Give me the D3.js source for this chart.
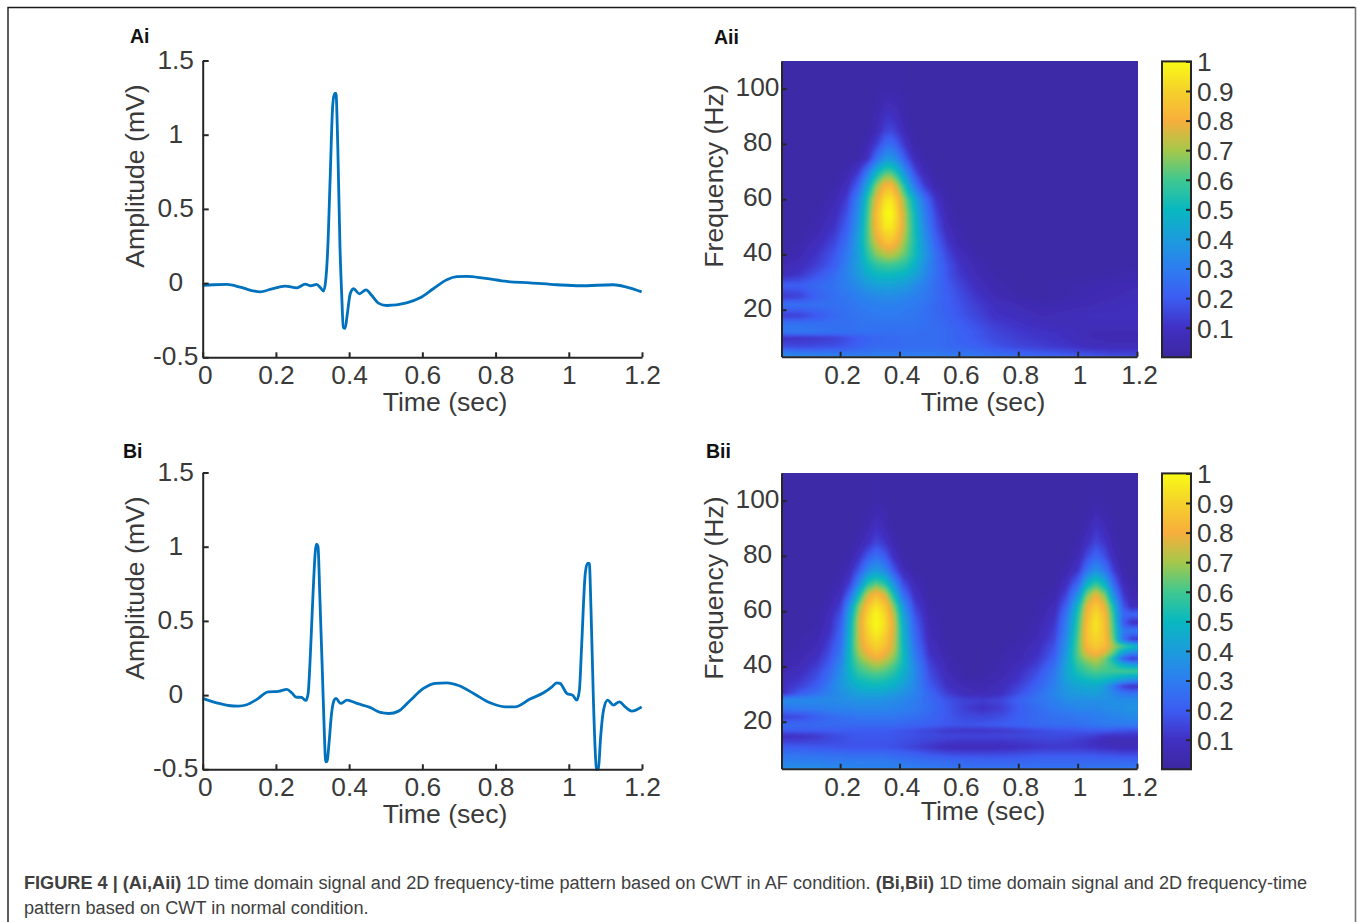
<!DOCTYPE html>
<html>
<head>
<meta charset="utf-8">
<script src="https://cdn.jsdelivr.net/npm/d3@7"></script>
<style>
html, body { margin:0; padding:0; background:#fff; }
svg { display:block; font-family:"Liberation Sans", Arial, sans-serif; }
.lab { font-size:26.6px; fill:#3a3a3a; }
.axis path, .axis line { stroke:#262626; stroke-width:2; fill:none; }
.axis text { font-size:26.3px; fill:#3a3a3a; font-family:"Liberation Sans", Arial, sans-serif; }
</style>
</head>
<body>
<svg id="fig" width="1357" height="922"></svg>
<script>
// time domain signals (sec, mV)
var aiTime = [0,.029,.066,.102,.134,.157,.184,.225,.257,.28,.295,.311,.322,.33,.336,.341,.348,.355,.36,.364,.369,.375,.38,.384,.389,.395,.403,.412,.428,.446,.462,.48,.503,.557,.594,.63,.667,.694,.721,.767,.831,.894,.967,1.031,1.122,1.158,1.199];
var aiAmp = [-.016,-.011,-.009,-.027,-.05,-.059,-.043,-.02,-.032,-.007,-.018,-.009,-.032,-.054,.018,.199,.695,1.192,1.278,1.278,.921,.244,-.095,-.298,-.305,-.208,-.072,-.038,-.072,-.045,-.084,-.135,-.151,-.133,-.099,-.038,.023,.043,.045,.034,.011,.002,-.011,-.018,-.011,-.027,-.059];
var biTime = [0,.038,.07,.097,.12,.148,.179,.207,.23,.243,.255,.27,.282,.288,.293,.301,.308,.311,.315,.32,.327,.332,.336,.34,.345,.352,.359,.364,.377,.394,.421,.457,.485,.509,.535,.566,.603,.635,.667,.699,.74,.785,.826,.853,.894,.931,.954,.967,.976,.995,1.011,1.022,1.029,1.035,1.045,1.051,1.056,1.061,1.067,1.073,1.076,1.081,1.087,1.095,1.106,1.122,1.138,1.154,1.172,1.199];
var biAmp = [-.022,-.052,-.07,-.074,-.065,-.029,.022,.025,.038,.016,-.013,-.016,-.036,.011,.213,.663,.978,1.018,1,.663,.146,-.236,-.449,-.445,-.326,-.124,-.034,-.022,-.056,-.034,-.056,-.083,-.117,-.124,-.108,-.038,.045,.079,.083,.065,.011,-.052,-.079,-.079,-.027,.016,.056,.083,.079,.011,-.002,-.034,.034,.326,.82,.888,.888,.551,-.011,-.416,-.5,-.494,-.281,-.101,-.034,-.067,-.045,-.079,-.108,-.079];

// CWT maps, percent of the colour range
var aiiTimes = [0,.06,.12,.18,.22,.26,.29,.32,.35,.37,.39,.42,.45,.48,.52,.56,.6,.66,.72,.8,.88,.96,1.04,1.12,1.2];
var aiiFreqs = [110,100,95,90,85,80,75,70,65,60,55,50,45,40,36,33,29,25,22,18,15,12,10,7,5,3];
var aiiValues = [
 [2,2,2,2,2,2,2,2, 2,2,2, 2,2,2,2,2,2,2, 2,2,2,2,2,2,2],
 [2,2,2,2,2,2,2,2, 3,3,3, 2,2,2,2,2,2,2, 2,2,2,2,2,2,2],
 [2,2,2,2,2,2,2,3, 6,6,5, 3,2,2,2,2,2,2, 2,2,2,2,2,2,2],
 [2,2,2,2,2,2,2,4, 10,10,8, 3,2,2,2,2,2,2, 2,2,2,2,2,2,2],
 [2,2,2,2,2,2,2,6, 14,15,12, 5,2,2,2,2,2,2, 2,2,2,2,2,2,2],
 [2,2,2,2,2,2,5,13, 24,25,20, 10,3,2,2,2,2,2, 2,2,2,2,2,2,2],
 [2,2,2,2,2,3,9,24, 37,38,32, 18,7,3,2,2,2,2, 2,2,2,2,2,2,2],
 [2,2,2,2,4,12,28,48, 60,60,52, 33,16,6,2,2,2,2, 2,2,2,2,2,2,2],
 [2,2,2,3,8,22,44,67, 82,83,72, 50,28,14,4,2,2,2, 2,2,2,2,2,2,2],
 [2,2,2,5,13,32,55,78, 94,95,86, 64,45,27,11,3,2,2, 2,2,2,2,2,2,2],
 [2,2,3,8,17,36,58,84, 99,100,91, 69,50,32,15,5,2,2, 2,2,2,2,2,2,2],
 [2,2,4,11,21,39,60,83, 95,96,89, 70,52,35,18,7,3,2, 2,2,2,2,2,2,2],
 [2,3,7,15,25,42,60,76, 86,87,81, 67,53,38,22,11,4,2, 2,2,2,2,2,2,2],
 [3,5,11,19,29,41,56,66, 71,72,69, 62,52,40,26,15,8,3, 2,2,2,2,2,2,2],
 [6,8,14,21,31,41,50,56, 58,58,57, 54,47,37,26,18,11,5, 2,2,2,2,2,2,3],
 [7,11,18,25,32,39,46,50, 51,51,50, 48,43,35,26,18,12,6, 3,2,2,2,2,3,4],
 [21,21,24,27,31,35,39,41, 42,42,41, 39,35,31,25,20,15,8, 4,2,2,3,4,5,6],
 [12,14,22,26,28,31,33,34, 35,35,34, 33,31,29,25,21,17,11, 6,3,2,3,5,6,7],
 [26,26,26,26,27,29,30,31, 31,31,31, 30,29,27,24,21,18,13, 9,6,4,5,6,7,8],
 [13,14,19,24,26,27,28,29, 29,29,29, 28,28,26,24,22,19,15, 10,8,6,7,8,8,8],
 [27,27,26,26,26,27,27,27, 27,27,27, 27,27,26,25,23,21,17, 13,10,8,6,7,7,7],
 [28,28,27,26,26,26,26,26, 26,26,26, 26,26,25,25,24,22,19, 15,12,10,9,6,6,6],
 [10,11,12,14,17,20,22,23, 24,24,24, 25,25,25,25,24,22,19, 16,13,11,9,6,5,5],
 [16,15,16,17,19,21,23,24, 24,24,24, 25,25,25,25,24,23,21, 18,15,13,11,8,7,7],
 [28,26,25,25,25,26,26,27, 27,27,27, 27,27,27,27,26,26,25, 22,20,18,16,14,12,12],
 [36,35,34,33,32,32,32,32, 32,32,32, 32,32,32,32,31,30,29, 28,26,24,22,20,18,16]
];

var biiTimes = [0,.06,.12,.16,.2,.23,.26,.29,.32,.35,.38,.41,.45,.5,.56,.62,.68,.74,.8,.86,.92,.96,1,1.03,1.06,1.09,1.12,1.15,1.18,1.2];
var biiFreqs = [110,100,95,90,85,80,75,70,66,62,59,56,53,50,47.5,45,43,41,38.5,35.5,33,30.5,28,25,22,19,17,15,13,11,8,6,3];
var biiValues = [
 [2,2,2,2,2,2,2,2, 2, 2,2,2,2,2,2,2,2, 2,2,2,2,2,2,2, 2, 2,2,2,2,2],
 [2,2,2,2,2,2,2,2, 3, 2,2,2,2,2,2,2,2, 2,2,2,2,2,2,2, 3, 2,2,2,2,2],
 [2,2,2,2,2,2,2,3, 6, 4,2,2,2,2,2,2,2, 2,2,2,2,2,2,3, 6, 4,2,2,2,2],
 [2,2,2,2,2,2,2,5, 10, 6,2,2,2,2,2,2,2, 2,2,2,2,2,2,5, 11, 7,3,2,2,2],
 [2,2,2,2,2,2,4,9, 15, 11,4,2,2,2,2,2,2, 2,2,2,2,2,3,9, 15, 11,4,2,2,2],
 [2,2,2,2,2,3,9,19, 26, 20,9,3,2,2,2,2,2, 2,2,2,2,2,6,16, 23, 17,7,2,2,2],
 [2,2,2,2,3,7,18,33, 40, 33,18,7,2,2,2,2,2, 2,2,2,2,4,11,27, 36, 28,13,4,2,2],
 [2,2,2,2,5,13,33,55, 63, 56,36,17,6,2,2,2,2, 2,2,2,2,9,24,48, 58, 48,24,8,3,3],
 [2,2,2,3,8,23,50,74, 85, 76,52,26,9,2,2,2,2, 2,2,2,4,15,37,66, 79, 66,36,13,5,5],
 [2,2,2,5,13,36,65,86, 95, 87,66,38,14,3,2,2,2, 2,2,3,7,22,50,78, 88, 78,50,20,8,8],
 [2,2,3,7,17,42,70,90, 99, 91,72,44,18,4,2,2,2, 2,2,3,9,27,55,82, 93, 83,55,24,22,24],
 [2,2,3,8,20,45,73,92, 100, 93,75,47,21,5,2,2,2, 2,2,4,11,30,58,85, 95, 85,58,22,10,9],
 [2,2,4,9,22,47,73,90, 98, 91,75,49,23,6,2,2,2, 2,2,5,13,32,60,86, 94, 85,60,30,28,30],
 [2,3,5,12,24,48,73,87, 94, 88,74,50,25,7,2,2,2, 2,3,6,15,35,62,86, 91, 86,63,28,12,11],
 [2,3,6,14,26,49,72,84, 90, 85,73,51,27,9,3,2,2, 2,4,8,18,37,63,83, 88, 84,70,60,54,50],
 [3,4,8,16,28,50,69,79, 85, 80,70,52,29,10,3,2,2, 3,5,9,20,39,63,77, 82, 76,62,42,32,32],
 [3,5,10,18,30,50,65,74, 79, 75,66,52,31,12,4,2,2, 3,5,11,22,41,61,70, 74, 66,50,22,12,14],
 [4,6,12,20,33,50,62,67, 72, 68,62,51,33,14,5,2,2, 4,7,13,25,42,58,64, 68, 63,56,45,38,38],
 [5,8,15,23,35,48,58,62, 64, 62,57,48,34,16,6,2,2, 4,9,16,28,43,54,59, 62, 60,60,60,60,60],
 [7,11,18,26,37,46,52,54, 56, 54,51,45,34,18,8,3,3, 6,11,19,30,42,48,51, 53, 51,48,42,38,38],
 [9,14,21,29,38,43,47,49, 50, 49,46,41,33,20,10,6,5, 8,14,22,31,39,43,44, 45, 40,28,14,9,9],
 [8,20,26,31,36,39,42,43, 43, 42,40,37,32,23,13,7,6, 9,17,25,33,38,40,41, 41, 38,33,28,26,28],
 [35,34,34,34,35,36,37,37, 37, 36,35,33,30,24,18,14,13, 15,22,27,31,35,36,36, 36, 36,36,35,35,35],
 [28,29,30,31,32,32,33,33, 33, 33,32,31,29,25,19,13,10, 13,20,25,29,31,33,33, 33, 34,35,36,37,37],
 [14,16,21,24,26,27,28,28, 28, 28,28,27,26,23,19,16,15, 17,21,24,26,27,28,29, 30, 31,32,33,34,34],
 [24,24,24,24,24,24,24,24, 24, 24,24,23,22,21,19,18,19, 20,22,24,25,25,26,27, 28, 29,29,29,29,29],
 [20,20,20,20,20,20,20,20, 20, 20,19,18,17,15,12,11,11, 12,14,16,18,18,19,20, 20, 20,19,18,17,17],
 [9,10,12,15,17,18,19,19, 19, 19,18,18,17,16,15,15,15, 15,15,16,16,16,15,14, 13, 10,10,10,10,10],
 [14,14,15,16,17,18,18,18, 18, 18,18,17,16,14,12,11,11, 11,12,13,14,13,12,11, 9, 7,6,6,6,6],
 [21,20,19,19,18,18,18,18, 18, 18,17,16,14,11,8,7,7, 8,9,11,12,12,12,11, 10, 9,8,7,7,8],
 [28,27,27,26,26,25,25,25, 25, 25,24,23,22,20,18,17,17, 17,18,19,19,19,19,19, 19, 18,18,17,17,17],
 [31,30,30,29,29,29,29,29, 29, 29,28,27,26,25,24,23,22, 22,22,23,23,23,23,23, 23, 23,23,23,23,23],
 [36,36,36,35,35,34,33,32, 32, 32,32,32,31,30,28,27,27, 27,27,27,27,27,27,28, 28, 28,28,29,29,30]
];

// colour bar, sampled from the legend
var cbStops = [0,.1,.2,.3,.4,.5,.6,.7,.8,.9,1];
var cbColors = ['#3c27a0','#4130c4','#3c5cf2','#2d7df0','#1c9cdc','#08b8c0','#40c890','#a5c84a','#f8ae3c','#f5d12b','#f9fb15'];

var timeTicks = [0,.2,.4,.6,.8,1,1.2];
var mapTimeTicks = [.2,.4,.6,.8,1,1.2];
var ampTicks = [-.5,0,.5,1,1.5];
var freqTicks = [20,40,60,80,100];
var cbTicks = [.1,.2,.3,.4,.5,.6,.7,.8,.9,1];

var svg = d3.select('#fig');
var color = d3.scaleLinear().domain(cbStops).range(cbColors).interpolate(d3.interpolateRgb).clamp(true);

var defs = svg.append('defs');
defs.append('filter').attr('id','soft')
	.attr('x',0).attr('y',0).attr('width',1).attr('height',1)
	.append('feGaussianBlur').attr('stdDeviation',1.3);

// figure frame, the bottom stays open
svg.append('path').attr('d','M8,922V7.5H1355').attr('fill','none').attr('stroke','#1a1a1a').attr('stroke-width',1.4);
svg.append('line').attr('x1',1355.5).attr('x2',1355.5).attr('y1',7).attr('y2',922).attr('stroke','#777').attr('stroke-width',1.6);

function signalPanel(dy, times, amps){
	var x = d3.scaleLinear().domain([0,1.2]).range([202.7,642]);
	var y = d3.scaleLinear().domain([-.5,1.5]).range([357.3+dy,60.5+dy]);
	var line = d3.line()
		.x(function(d,i){ return x(times[i]); })
		.y(function(d){ return y(d); })
		.curve(d3.curveMonotoneX);
	svg.append('path').datum(amps).attr('d',line)
		.attr('fill','none').attr('stroke','#0072bd').attr('stroke-width',2.8).attr('stroke-linejoin','round');

	var ax = svg.append('g').attr('class','axis').attr('transform','translate(0,'+y(-.5)+')')
		.call(d3.axisBottom(x).tickValues(timeTicks).tickSize(-5).tickSizeOuter(0).tickFormat(String));
	ax.selectAll('text').attr('y',27).attr('dy',0).attr('x',function(d){ return d === 0 ? 2 : 0; });
	var ay = svg.append('g').attr('class','axis').attr('transform','translate('+x(0)+',0)')
		.call(d3.axisLeft(y).tickValues(ampTicks).tickSize(-6).tickSizeOuter(0).tickFormat(String));
	ay.selectAll('text').attr('x',-27).attr('dy',7.5).attr('text-anchor','middle');

	svg.append('text').attr('class','lab').attr('x',445).attr('y',411+dy).attr('text-anchor','middle').text('Time (sec)');
	svg.append('text').attr('class','lab').attr('text-anchor','middle')
		.attr('transform','translate(144,'+(176+dy)+') rotate(-90)').text('Amplitude (mV)');
}

function mapPanel(dy, times, freqs, values, timeLabelY){
	var x = d3.scaleLinear().domain([.0025,1.2]).range([781.5,1137]);
	var y = d3.scaleLinear().domain([3,110]).range([356.7+dy,61+dy]);
	var pad = 5;
	var w = Math.round(x.range()[1]-x.range()[0])+2*pad, h = Math.round(y.range()[0]-y.range()[1])+2*pad;
	var canvas = document.createElement('canvas');
	canvas.width = w; canvas.height = h;
	var ctx = canvas.getContext('2d');
	var img = ctx.createImageData(w,h);
	var asc = freqs.slice().reverse();
	var rows = values.slice().reverse();
	rows.forEach(function(r){ if(r.length !== times.length) throw new Error('bad row length '+r.length); });
	function at(t,f){
		t = Math.max(times[0],Math.min(t,times[times.length-1]));
		f = Math.max(asc[0],Math.min(f,asc[asc.length-1]));
		var i = Math.min(d3.bisectRight(times,t),times.length-1), j = Math.min(d3.bisectRight(asc,f),asc.length-1);
		var a = (t-times[i-1])/(times[i]-times[i-1]), b = (f-asc[j-1])/(asc[j]-asc[j-1]);
		var low = rows[j-1][i-1]*(1-a)+rows[j-1][i]*a, high = rows[j][i-1]*(1-a)+rows[j][i]*a;
		return (low*(1-b)+high*b)/100;
	}
	for(var py=0; py<h; py++){
		for(var px=0; px<w; px++){
			var c = d3.rgb(color(at(x.invert(x.range()[0]-pad+px), y.invert(y.range()[1]-pad+py))));
			var k = 4*(py*w+px);
			img.data[k]=c.r; img.data[k+1]=c.g; img.data[k+2]=c.b; img.data[k+3]=255;
		}
	}
	ctx.putImageData(img,0,0);

	var id = 'clip'+dy;
	defs.append('clipPath').attr('id',id).append('rect')
		.attr('x',x.range()[0]).attr('y',y.range()[1]).attr('width',1138-x.range()[0]).attr('height',y.range()[0]-y.range()[1]);
	svg.append('g').attr('clip-path','url(#'+id+')').append('image')
		.attr('x',x.range()[0]-pad).attr('y',y.range()[1]-pad).attr('width',w).attr('height',h)
		.attr('preserveAspectRatio','none')
		.attr('href',canvas.toDataURL()).attr('filter','url(#soft)');

	var ax = svg.append('g').attr('class','axis').attr('transform','translate(0,'+y(3)+')')
		.call(d3.axisBottom(x).tickValues(mapTimeTicks).tickSize(-5).tickSizeOuter(0).tickFormat(String));
	ax.selectAll('text').attr('x',2).attr('y',27).attr('dy',0);
	var ay = svg.append('g').attr('class','axis').attr('transform','translate('+x.range()[0]+',0)')
		.call(d3.axisLeft(y).tickValues(freqTicks).tickSize(-5).tickSizeOuter(0).tickFormat(String));
	ay.selectAll('text').attr('x',-24).attr('dy',6.5).attr('text-anchor','middle');

	svg.append('text').attr('class','lab').attr('x',983).attr('y',timeLabelY).attr('text-anchor','middle').text('Time (sec)');
	svg.append('text').attr('class','lab').attr('text-anchor','middle')
		.attr('transform','translate(723,'+(176+dy)+') rotate(-90)').text('Frequency (Hz)');

	// colour bar
	var gid = 'cb'+dy;
	var grad = defs.append('linearGradient').attr('id',gid).attr('x1',0).attr('x2',0).attr('y1',1).attr('y2',0);
	cbStops.forEach(function(s,i){ grad.append('stop').attr('offset',s).attr('stop-color',cbColors[i]); });
	var cy = d3.scaleLinear().domain([0,1]).range([357.3+dy,61.4+dy]);
	svg.append('rect').attr('x',1162).attr('y',cy(1)).attr('width',29).attr('height',cy(0)-cy(1))
		.attr('fill','url(#'+gid+')').attr('stroke','#262626').attr('stroke-width',2);
	var cb = svg.append('g').attr('class','axis').attr('transform','translate(1191,0)')
		.call(d3.axisRight(cy).tickValues(cbTicks).tickSize(-5).tickSizeOuter(0).tickFormat(String));
	cb.select('.domain').remove();
	cb.selectAll('text').attr('x',6).attr('dy',9.3).attr('text-anchor','start');
}

signalPanel(0, aiTime, aiAmp);
signalPanel(412, biTime, biAmp);
mapPanel(0, aiiTimes, aiiFreqs, aiiValues, 411);
mapPanel(412, biiTimes, biiFreqs, biiValues, 820);

// panel tags
[['Ai',130,43],['Aii',714,44],['Bi',123,458],['Bii',706,458]].forEach(function(d){
	svg.append('text').attr('x',d[1]).attr('y',d[2]).attr('font-size',19.5).attr('font-weight','bold').attr('fill','#111').text(d[0]);
});

// caption
var cap1 = svg.append('text').attr('x',24).attr('y',889).attr('font-size',18.15).attr('fill','#404040');
cap1.append('tspan').attr('font-weight','bold').text('FIGURE 4 | (Ai,Aii)');
cap1.append('tspan').text(' 1D time domain signal and 2D frequency-time pattern based on CWT in AF condition. ');
cap1.append('tspan').attr('font-weight','bold').text('(Bi,Bii)');
cap1.append('tspan').text(' 1D time domain signal and 2D frequency-time');
svg.append('text').attr('x',24).attr('y',914).attr('font-size',18.15).attr('fill','#404040').text('pattern based on CWT in normal condition.');
</script>
</body>
</html>
